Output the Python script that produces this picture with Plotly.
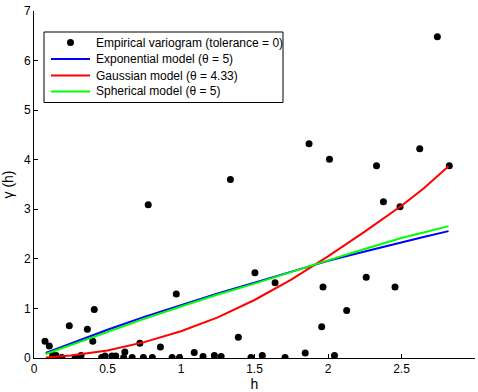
import plotly.graph_objects as go

# Empirical variogram points
emp_h = [0.075, 0.104, 0.127, 0.15, 0.19, 0.24, 0.28, 0.32, 0.363, 0.40, 0.41, 0.46,
         0.483, 0.53, 0.556, 0.61, 0.618, 0.668, 0.72, 0.744, 0.777, 0.805, 0.86, 0.94,
         0.968, 0.99, 1.09, 1.15, 1.227, 1.273, 1.336, 1.39, 1.476, 1.503, 1.553, 1.64,
         1.708, 1.845, 1.871, 1.957, 1.966, 2.01, 2.044, 2.127, 2.26, 2.33, 2.377, 2.456,
         2.49, 2.624, 2.744, 2.825]
emp_g = [0.34, 0.24, 0.05, 0.05, 0.01, 0.65, 0.01, 0.05, 0.58, 0.34, 0.98, 0.01,
         0.04, 0.04, 0.04, 0.01, 0.12, 0.01, 0.30, 0.01, 3.09, 0.01, 0.22, 0.01,
         1.29, 0.01, 0.11, 0.03, 0.05, 0.03, 3.60, 0.42, 0.01, 1.72, 0.05, 1.52,
         0.01, 0.10, 4.32, 0.63, 1.43, 4.01, 0.05, 0.96, 1.63, 3.88, 3.15, 1.43,
         3.05, 4.22, 6.48, 3.88]

# Model curves
model_h = [0.08, 0.25, 0.5, 0.75, 1.0, 1.25, 1.5, 1.75, 2.0, 2.25, 2.5, 2.65, 2.82]
exp_g = [0.10, 0.29, 0.57, 0.83, 1.07, 1.30, 1.52, 1.74, 1.96, 2.15, 2.34, 2.44, 2.56]
gau_g = [0.01, 0.05, 0.15, 0.32, 0.54, 0.82, 1.17, 1.58, 2.05, 2.55, 3.07, 3.42, 3.87]
sph_g = [0.08, 0.26, 0.53, 0.79, 1.04, 1.28, 1.50, 1.74, 1.97, 2.20, 2.42, 2.53, 2.66]

series_names = ["Empirical variogram (tolerance = 0)", "Exponential model (θ = 5)",
                "Gaussian model (θ = 4.33)", "Spherical model (θ = 5)"]
series_colors = ["black", "#0000ff", "#ff0000", "#00ff00"]

x_ticks = [0, 0.5, 1, 1.5, 2, 2.5, 3]
x_ticklabels = ["0", "0.5", "1", "1.5", "2", "2.5", "3"]
y_ticks = [0, 1, 2, 3, 4, 5, 6, 7]

font = "Liberation Sans, Arial, sans-serif"

W, H = 478, 392
ML, MR, MT, MB = 34, 3, 11, 34
PW, PH = W - ML - MR, H - MT - MB


def px(x):
    return (x - ML) / PW


def py(y):
    return (H - MB - y) / PH


fig = go.Figure()
fig.add_trace(go.Scatter(x=emp_h, y=emp_g, mode="markers",
                         marker=dict(color=series_colors[0], size=7),
                         name=series_names[0]))
for yv, nm, col in zip([exp_g, gau_g, sph_g], series_names[1:], series_colors[1:]):
    fig.add_trace(go.Scatter(x=model_h, y=yv, mode="lines",
                             line=dict(color=col, width=2), name=nm))

# Custom legend (MATLAB style)
shapes = [dict(type="rect", xref="paper", yref="paper",
               x0=px(44), x1=px(283), y0=py(102.5), y1=py(32),
               line=dict(color="black", width=1), fillcolor="white", layer="above")]
annotations = []
item_y = [42.5, 59, 75.5, 91.5]
for i, (nm, col) in enumerate(zip(series_names, series_colors)):
    yy = item_y[i]
    if i == 0:
        shapes.append(dict(type="circle", xref="paper", yref="paper",
                           x0=px(67), x1=px(74), y0=py(yy + 3.5), y1=py(yy - 3.5),
                           fillcolor="black", line=dict(color="black", width=0),
                           layer="above"))
    else:
        shapes.append(dict(type="line", xref="paper", yref="paper",
                           x0=px(51), x1=px(90), y0=py(yy), y1=py(yy),
                           line=dict(color=col, width=2), layer="above"))
    annotations.append(dict(xref="paper", yref="paper", x=px(94), y=py(yy),
                            xanchor="left", yanchor="middle", showarrow=False,
                            text=nm, font=dict(size=12, color="black")))

fig.update_layout(
    width=W, height=H,
    margin=dict(l=ML, r=MR, t=MT, b=MB),
    paper_bgcolor="white", plot_bgcolor="white",
    font=dict(family=font, size=12, color="#000"),
    showlegend=False,
    shapes=shapes, annotations=annotations,
    xaxis=dict(range=[0, 3], tickvals=x_ticks, ticktext=x_ticklabels,
               showgrid=False, zeroline=False, showline=True, linecolor="black",
               linewidth=1, ticks="inside", ticklen=4, tickcolor="black",
               title=dict(text="h", standoff=3), mirror=False),
    yaxis=dict(range=[0, 7], tickvals=y_ticks,
               showgrid=False, zeroline=False, showline=True, linecolor="black",
               linewidth=1, ticks="inside", ticklen=4, tickcolor="black",
               title=dict(text="γ (h)", standoff=10), mirror=False),
)

fig.write_html("out.html")
